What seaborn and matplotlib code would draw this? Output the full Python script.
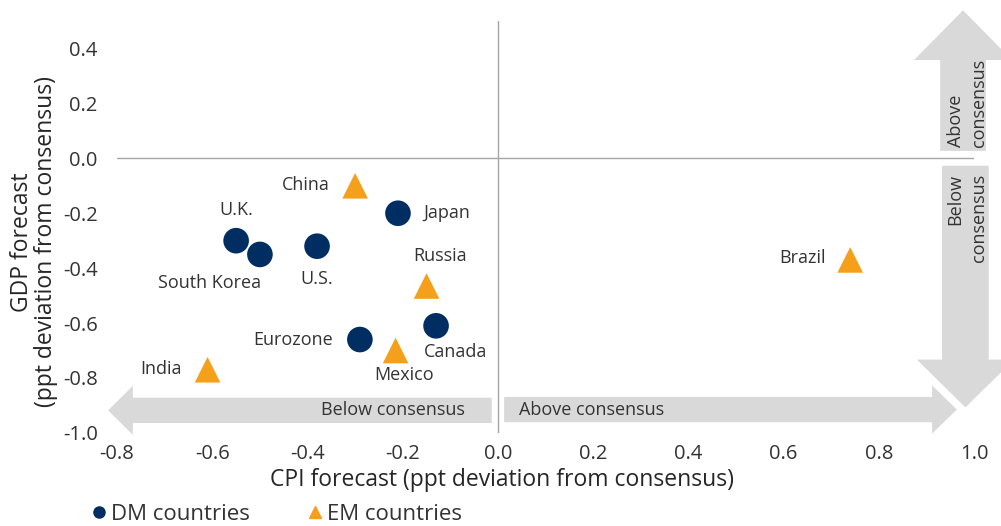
import numpy as np
import pandas as pd
import seaborn as sns
import matplotlib.pyplot as plt
from matplotlib.patches import Polygon
from matplotlib.lines import Line2D

# Data
dm_countries = ["U.K.", "South Korea", "U.S.", "Japan", "Eurozone", "Canada"]
dm_cpi = [-0.55, -0.50, -0.38, -0.21, -0.29, -0.13]
dm_gdp = [-0.30, -0.35, -0.32, -0.20, -0.66, -0.61]

em_countries = ["China", "Russia", "Mexico", "India", "Brazil"]
em_cpi = [-0.30, -0.15, -0.215, -0.61, 0.74]
em_gdp = [-0.10, -0.465, -0.70, -0.77, -0.37]

x_ticks = [-0.8, -0.6, -0.4, -0.2, 0.0, 0.2, 0.4, 0.6, 0.8, 1.0]
y_ticks = [-1.0, -0.8, -0.6, -0.4, -0.2, 0.0, 0.2, 0.4]

# label offsets in pixels (dx, dy, ha)
label_pos = {
    "U.K.": (0, 31, "center"),
    "South Korea": (-50, -29, "center"),
    "U.S.": (0, -33, "center"),
    "Japan": (25, 0, "left"),
    "Eurozone": (-27, 0, "right"),
    "Canada": (20, -26, "center"),
    "China": (-25, 1, "right"),
    "Russia": (14, 30, "center"),
    "Mexico": (8, -24, "center"),
    "India": (-26, 1, "right"),
    "Brazil": (-24, 2, "right"),
}

navy = "#002d62"
orange = "#f5a01a"
arrow_grey = "#d9d9d9"
text_col = "#333333"

df = pd.DataFrame({
    "country": dm_countries + em_countries,
    "cpi": dm_cpi + em_cpi,
    "gdp": dm_gdp + em_gdp,
    "group": ["DM countries"] * len(dm_countries) + ["EM countries"] * len(em_countries),
})

sns.set_style("white")
plt.rcParams["font.family"] = ["Open Sans", "DejaVu Sans"]
plt.rcParams["text.color"] = text_col

fig = plt.figure(figsize=(10.01, 5.26), dpi=100)
ax = fig.add_axes([0.117, 0.177, 0.856, 0.783])

ax.axhline(0, color="#a6a6a6", lw=1, zorder=1)
ax.axvline(0, color="#a6a6a6", lw=1, zorder=1)


def h_arrow(x0, x1, yc, body, head, head_len):
    s = np.sign(x1 - x0)
    xb = x1 - s * head_len
    return [(x0, yc - body), (xb, yc - body), (xb, yc - head), (x1, yc),
            (xb, yc + head), (xb, yc + body), (x0, yc + body)]


def v_arrow(y0, y1, xc, body, head, head_len):
    s = np.sign(y1 - y0)
    yb = y1 - s * head_len
    return [(xc - body, y0), (xc - body, yb), (xc - head, yb), (xc, y1),
            (xc + head, yb), (xc + body, yb), (xc + body, y0)]


arrows = [
    h_arrow(-0.013, -0.819, -0.918, 0.046, 0.089, 0.052),
    h_arrow(0.013, 0.964, -0.915, 0.046, 0.088, 0.052),
    v_arrow(0.027, 0.539, 0.977, 0.048, 0.103, 0.181),
    v_arrow(-0.027, -0.907, 0.982, 0.049, 0.102, 0.174),
]
for verts in arrows:
    ax.add_patch(Polygon(verts, closed=True, facecolor=arrow_grey,
                         edgecolor="none", clip_on=False, zorder=0))

ax.text(-0.069, -0.918, "Below consensus", ha="right", va="center", fontsize=13)
ax.text(0.044, -0.915, "Above consensus", ha="left", va="center", fontsize=13)
ax.text(0.986, 0.042, "Above\nconsensus", rotation=90, ha="center", va="bottom",
        multialignment="left", fontsize=13, linespacing=1.4)
ax.text(0.986, -0.056, "Below\nconsensus", rotation=90, ha="center", va="top",
        multialignment="right", fontsize=13, linespacing=1.4)

sns.scatterplot(
    data=df, x="cpi", y="gdp", hue="group", style="group",
    palette={"DM countries": navy, "EM countries": orange},
    markers={"DM countries": "o", "EM countries": "^"},
    s=340, linewidth=0, ax=ax, legend=False, zorder=3,
)

for _, row in df.iterrows():
    dx, dy, ha = label_pos[row["country"]]
    ax.annotate(row["country"], (row["cpi"], row["gdp"]), xytext=(dx, dy),
                textcoords="offset pixels", ha=ha, va="center", fontsize=13)

ax.set_xlim(-0.8, 1.0)
ax.set_ylim(-1.0, 0.5)
ax.set_xticks(x_ticks)
ax.set_yticks(y_ticks)
ax.set_xticklabels([f"{v:.1f}" for v in x_ticks])
ax.set_yticklabels([f"{v:.1f}" for v in y_ticks])
ax.tick_params(axis="both", length=0, labelsize=14.5, colors=text_col)
ax.tick_params(axis="x", pad=8)
ax.tick_params(axis="y", pad=14)
for sp in ax.spines.values():
    sp.set_visible(False)

ax.set_xlabel("CPI forecast (ppt deviation from consensus)", fontsize=16.5)
ax.xaxis.set_label_coords(0.449, -0.085)
ax.set_ylabel("GDP forecast\n(ppt deviation from consensus)", fontsize=16.5, linespacing=1.0)
ax.yaxis.set_label_coords(-0.069, 0.464)

handles = [
    Line2D([], [], marker="o", color=navy, ls="none", markersize=8),
    Line2D([], [], marker="^", color=orange, ls="none", markersize=9),
]
fig.legend(handles, ["DM countries", "EM countries"], loc="lower left",
           bbox_to_anchor=(0.068, -0.036), ncol=2, frameon=False, fontsize=16,
           handletextpad=0.05, columnspacing=2.4, handlelength=1.0)

fig.savefig("out.png", dpi=100)
